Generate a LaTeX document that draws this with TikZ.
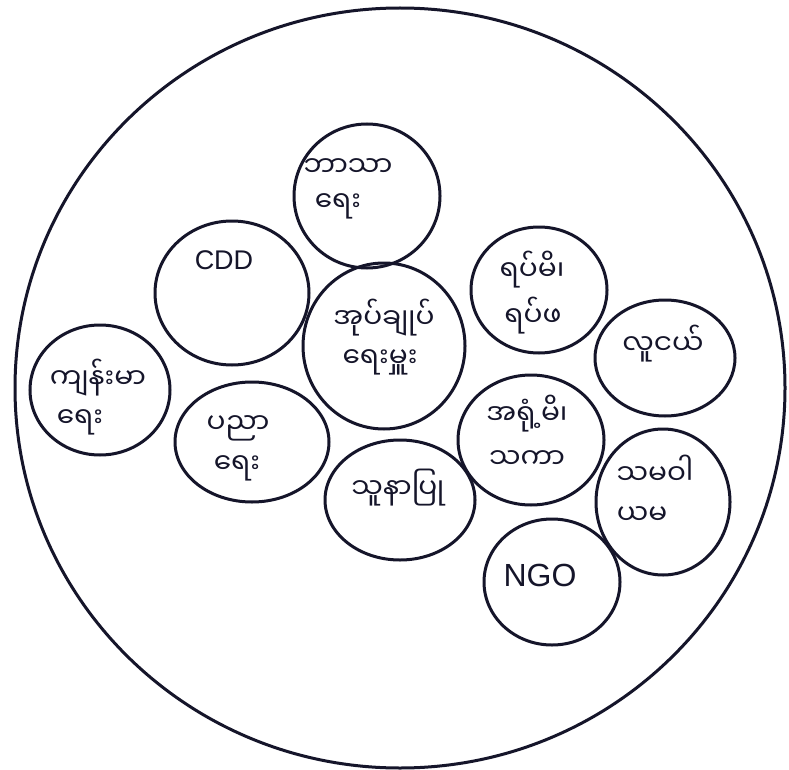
\documentclass[tikz,border=0pt]{standalone}
\usepackage{fontspec}
\setmainfont{Liberation Sans}
\newfontfamily\mya[Script=Myanmar]{Noto Sans Myanmar UI}
\usetikzlibrary{shapes.geometric}
\definecolor{ink}{HTML}{15152A}
\tikzset{
  bubble/.style={ellipse, draw=ink, line width=3pt, inner sep=0pt},
  mtxt/.style={font=\mya\fontsize{28}{32}\selectfont, text=ink, inner sep=0pt},
  ltxt/.style={font=\fontsize{27}{30}\selectfont, text=ink, inner sep=0pt},
  bigltxt/.style={font=\fontsize{32}{36}\selectfont, text=ink, inner sep=0pt}
}
\begin{document}
\begin{tikzpicture}[x=1pt,y=-1pt]
\useasboundingbox (0,0) rectangle (789,770);
\fill[white] (0,0) rectangle (789,770);
\node[bubble, minimum width=770pt, minimum height=760pt] (outer) at (400,388) {};
% inner circles
\node[bubble, minimum width=146pt, minimum height=144pt] (c1) at (367,196) {};
\node[bubble, minimum width=154pt, minimum height=144pt] (c2) at (232,293) {};
\node[bubble, minimum width=162pt, minimum height=166pt] (c3) at (384,346) {};
\node[bubble, minimum width=136pt, minimum height=126pt] (c4) at (539,290) {};
\node[bubble, minimum width=140pt, minimum height=116pt] (c5) at (665,358) {};
\node[bubble, minimum width=140pt, minimum height=130pt] (c6) at (100,390) {};
\node[bubble, minimum width=154pt, minimum height=120pt] (c7) at (252,442) {};
\node[bubble, minimum width=150pt, minimum height=120pt] (c8) at (400,500) {};
\node[bubble, minimum width=146pt, minimum height=130pt] (c9) at (531,440) {};
\node[bubble, minimum width=134pt, minimum height=146pt] (c10) at (663,502) {};
\node[bubble, minimum width=136pt, minimum height=126pt] (c11) at (552,582) {};
% texts
\node[mtxt] (t1a) at (348,168) {ဘာသာ};
\node[mtxt] (t1b) at (338,206) {ရေး};
\node[ltxt] (t2) at (224,260) {CDD};
\node[mtxt] (t3a) at (384,318) {အုပ်ချုပ်};
\node[mtxt] (t3b) at (380,362) {ရေးမှူး};
\node[mtxt] (t4a) at (532,270) {ရပ်မိ၊};
\node[mtxt] (t4b) at (533,316) {ရပ်ဖ};
\node[mtxt] (t5) at (663,344) {လူငယ်};
\node[mtxt] (t6a) at (98,378) {ကျန်းမာ};
\node[mtxt] (t6b) at (80,422) {ရေး};
\node[mtxt] (t7a) at (238,428) {ပညာ};
\node[mtxt] (t7b) at (237,468) {ရေး};
\node[mtxt] (t8) at (398,488) {သူနာပြု};
\node[mtxt] (t9a) at (527,414) {အရုံ့မိ၊};
\node[mtxt] (t9b) at (527,460) {သကာ};
\node[mtxt] (t10a) at (655,470) {သမဝါ};
\node[mtxt] (t10b) at (642,516) {ယမ};
\node[bigltxt] (t11) at (540,575) {NGO};
\end{tikzpicture}
\end{document}
